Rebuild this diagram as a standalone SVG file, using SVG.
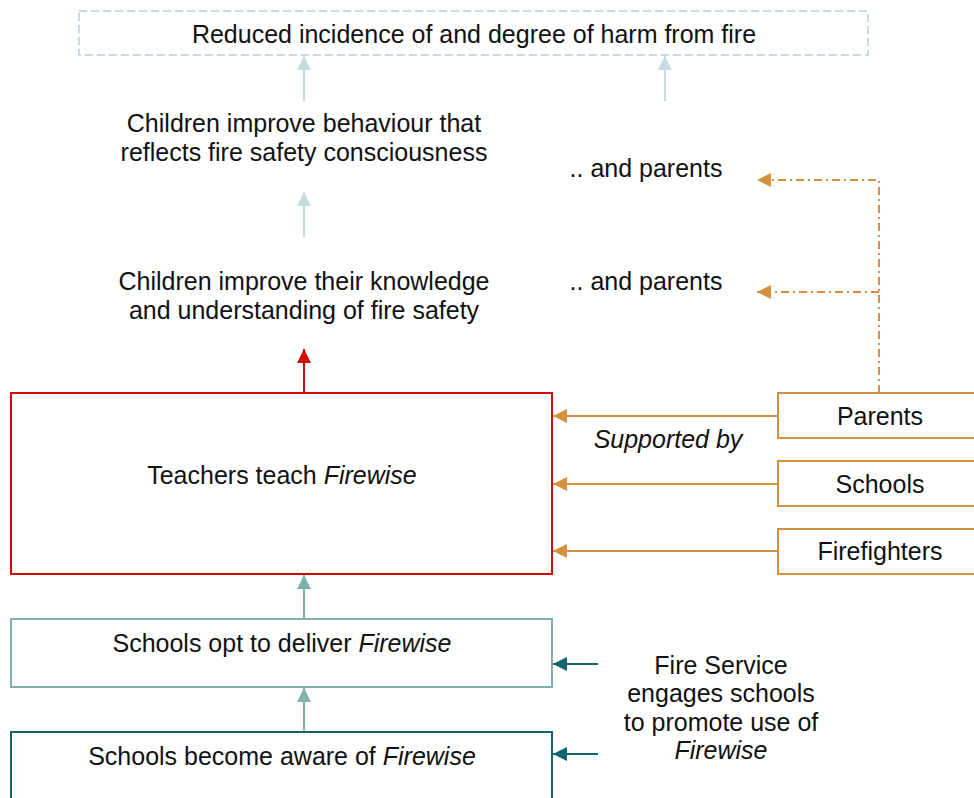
<svg xmlns="http://www.w3.org/2000/svg" width="974" height="798" viewBox="0 0 974 798">
<style>
text{font-family:"Liberation Sans",Arial,sans-serif;font-size:25px;fill:#111;text-anchor:middle}
.it{font-style:italic}
.box{fill:#fff;stroke-width:2}
.lb{stroke:#c6dbe0}
.red{stroke:#d20a0a}
.org{stroke:#d4923f}
.tl{stroke:#7eb0ad}
.dt{stroke:#0f6470}
.ln{fill:none;stroke-width:2}
</style>
<defs>
<marker id="aLb" markerUnits="userSpaceOnUse" markerWidth="16" markerHeight="16" refX="14" refY="7" orient="auto"><path d="M0,0 L14,7 L0,14 z" fill="#c6dbe0"/></marker>
<marker id="aRed" markerUnits="userSpaceOnUse" markerWidth="16" markerHeight="16" refX="14" refY="7" orient="auto"><path d="M0,0 L14,7 L0,14 z" fill="#d20a0a"/></marker>
<marker id="aOrg" markerUnits="userSpaceOnUse" markerWidth="16" markerHeight="16" refX="14" refY="7" orient="auto"><path d="M0,0 L14,7 L0,14 z" fill="#d4923f"/></marker>
<marker id="aTl" markerUnits="userSpaceOnUse" markerWidth="16" markerHeight="16" refX="14" refY="7" orient="auto"><path d="M0,0 L14,7 L0,14 z" fill="#7eb0ad"/></marker>
<marker id="aDt" markerUnits="userSpaceOnUse" markerWidth="16" markerHeight="16" refX="14" refY="7" orient="auto"><path d="M0,0 L14,7 L0,14 z" fill="#0f6470"/></marker>
</defs>

<g id="connectors">
<line class="ln lb" x1="304" y1="101" x2="304" y2="56" marker-end="url(#aLb)"/>
<line class="ln lb" x1="665" y1="101" x2="665" y2="56" marker-end="url(#aLb)"/>
<line class="ln lb" x1="304" y1="237" x2="304" y2="192" marker-end="url(#aLb)"/>
<line class="ln red" x1="304" y1="393" x2="304" y2="349" marker-end="url(#aRed)"/>
<path class="ln org" d="M879,393 V180 H757" stroke-dasharray="8,4,2,4" marker-end="url(#aOrg)"/>
<path class="ln org" d="M879,292 H757" stroke-dasharray="8,4,2,4" marker-end="url(#aOrg)"/>
<line class="ln org" x1="778" y1="416" x2="553" y2="416" marker-end="url(#aOrg)"/>
<line class="ln org" x1="778" y1="484" x2="553" y2="484" marker-end="url(#aOrg)"/>
<line class="ln org" x1="778" y1="551" x2="553" y2="551" marker-end="url(#aOrg)"/>
<line class="ln tl" x1="304" y1="619" x2="304" y2="575" marker-end="url(#aTl)"/>
<line class="ln tl" x1="304" y1="732" x2="304" y2="688" marker-end="url(#aTl)"/>
<line class="ln dt" x1="598" y1="664" x2="553" y2="664" marker-end="url(#aDt)"/>
<line class="ln dt" x1="598" y1="754" x2="553" y2="754" marker-end="url(#aDt)"/>
</g>

<g id="outcome">
<rect class="box lb" x="79" y="11" width="789" height="44" stroke-dasharray="8,4"/>
<text x="474" y="43">Reduced incidence of and degree of harm from fire</text>
</g>

<g id="behaviour">
<text x="304" y="132">Children improve behaviour that</text>
<text x="304" y="161">reflects fire safety consciousness</text>
</g>

<g id="parents-behaviour">
<text x="646" y="177">.. and parents</text>
</g>

<g id="knowledge">
<text x="304" y="290">Children improve their knowledge</text>
<text x="304" y="319">and understanding of fire safety</text>
</g>

<g id="parents-knowledge">
<text x="646" y="290">.. and parents</text>
</g>

<g id="teachers">
<rect class="box red" x="11" y="393" width="541" height="181"/>
<text x="282" y="484">Teachers teach <tspan class="it">Firewise</tspan></text>
</g>

<g id="parents">
<rect class="box org" x="778" y="393" width="210" height="45"/>
<text x="880" y="425">Parents</text>
</g>

<g id="supported">
<text class="it" x="668" y="448">Supported by</text>
</g>

<g id="schools">
<rect class="box org" x="778" y="461" width="210" height="45"/>
<text x="880" y="493">Schools</text>
</g>

<g id="firefighters">
<rect class="box org" x="778" y="529" width="210" height="45"/>
<text x="880" y="560">Firefighters</text>
</g>

<g id="opt">
<rect class="box tl" x="11" y="619" width="541" height="68"/>
<text x="282" y="652">Schools opt to deliver <tspan class="it">Firewise</tspan></text>
</g>

<g id="aware">
<rect class="box dt" x="11" y="732" width="541" height="90"/>
<text x="282" y="765">Schools become aware of <tspan class="it">Firewise</tspan></text>
</g>

<g id="fire-service">
<text x="721" y="674">Fire Service</text>
<text x="721" y="702">engages schools</text>
<text x="721" y="731">to promote use of</text>
<text class="it" x="721" y="759">Firewise</text>
</g>
</svg>
